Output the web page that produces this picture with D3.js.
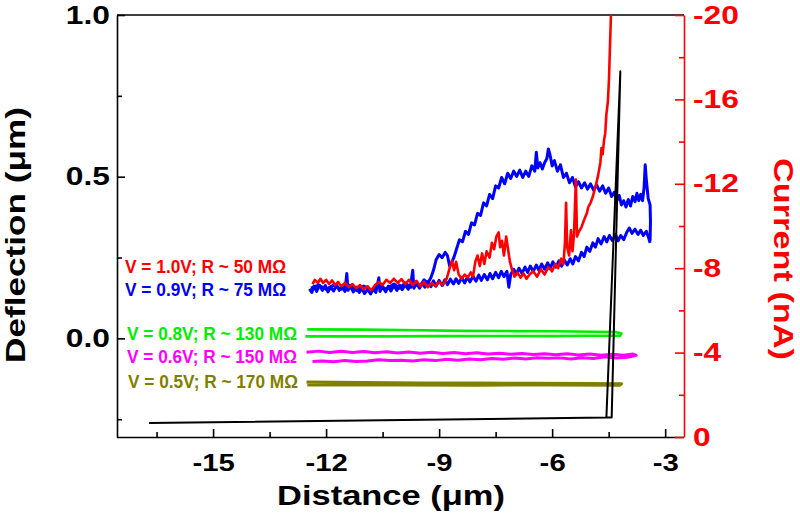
<!DOCTYPE html>
<html><head><meta charset="utf-8">
<script src="https://cdn.jsdelivr.net/npm/d3@7"></script>
<style>
body{margin:0;background:#fff;}
text{font-family:"Liberation Sans",Arial,sans-serif;font-weight:bold;}
</style></head>
<body><svg id="c" width="800" height="529"></svg>
<script>
// ---------- DATA ----------
const xTicks = [-15, -12, -9, -6, -3];
const xMinorTicks = [-16.5, -13.5, -10.5, -7.5, -4.5];
const yLeftTicks = [0, 0.5, 1.0];
const yLeftMinorTicks = [-0.25, 0.25, 0.75];
const yRightTicks = [0, -4, -8, -12, -16, -20];
const yRightMinorTicks = [-2, -6, -10, -14, -18];

const xTitle = "Distance (\u03BCm)";
const yLeftTitle = "Deflection (\u03BCm)";
const yRightTitle = "Current (nA)";

const legendLabels = [
  "V = 1.0V; R ~ 50 M\u03A9",
  "V = 0.9V; R ~ 75 M\u03A9",
  "V = 0.8V; R ~ 130 M\u03A9",
  "V = 0.6V; R ~ 150 M\u03A9",
  "V = 0.5V; R ~ 170 M\u03A9"
];

// deflection (um) vs distance (um)
const deflection = [[-16.7,-0.262],[-4.56,-0.245],[-4.19,0.826],[-4.42,-0.245],[-4.56,-0.245]];

// current (nA) vs distance (um)
const current10V = [[-12.36,-7.25],[-12.3,-7.45],[-12.22,-7.3],[-12.15,-7.5],[-12.08,-7.3],[-12.0,-7.45],[-11.92,-7.25],[-11.84,-7.42],[-11.76,-7.2],[-11.68,-7.35],[-11.6,-7.15],[-11.5,-7.3],[-11.4,-7.1],[-11.3,-7.25],[-11.2,-7.05],[-11.1,-7.2],[-11.0,-7.0],[-10.9,-7.15],[-10.8,-6.95],[-10.7,-7.2],[-10.6,-7.35],[-10.5,-7.2],[-10.4,-7.45],[-10.3,-7.3],[-10.2,-7.5],[-10.1,-7.3],[-10.0,-7.48],[-9.9,-7.25],[-9.8,-7.45],[-9.7,-7.2],[-9.6,-7.4],[-9.5,-7.15],[-9.4,-7.35],[-9.3,-7.1],[-9.2,-7.3],[-9.1,-7.15],[-9.0,-7.35],[-8.9,-7.2],[-8.8,-7.5],[-8.72,-8.0],[-8.66,-8.35],[-8.6,-7.9],[-8.55,-8.3],[-8.48,-7.7],[-8.4,-7.5],[-8.32,-7.7],[-8.24,-7.55],[-8.16,-7.8],[-8.1,-7.6],[-8.04,-8.3],[-7.98,-8.6],[-7.92,-8.1],[-7.86,-8.7],[-7.8,-8.2],[-7.74,-8.8],[-7.66,-8.5],[-7.6,-9.2],[-7.54,-8.9],[-7.48,-9.5],[-7.42,-9.7],[-7.38,-9.0],[-7.33,-9.3],[-7.28,-8.6],[-7.22,-9.5],[-7.17,-8.9],[-7.12,-8.3],[-7.06,-7.9],[-7.0,-7.6],[-6.92,-7.8],[-6.84,-7.55],[-6.76,-7.75],[-6.68,-7.5],[-6.6,-7.7],[-6.5,-7.85],[-6.4,-7.6],[-6.3,-7.95],[-6.2,-7.7],[-6.1,-8.05],[-6.0,-7.85],[-5.92,-8.2],[-5.84,-8.0],[-5.76,-8.45],[-5.7,-8.2],[-5.66,-9.2],[-5.63,-11.1],[-5.6,-9.0],[-5.55,-8.6],[-5.5,-9.8],[-5.46,-8.8],[-5.42,-9.6],[-5.37,-12.2],[-5.34,-9.5],[-5.3,-9.7],[-5.22,-9.95],[-5.15,-10.3],[-5.08,-10.6],[-5.04,-10.9],[-4.98,-11.1],[-4.92,-11.4],[-4.85,-11.85],[-4.78,-12.4],[-4.72,-13.0],[-4.69,-13.7],[-4.66,-13.4],[-4.62,-14.1],[-4.59,-14.4],[-4.56,-15.3],[-4.52,-15.9],[-4.49,-17.0],[-4.46,-18.8],[-4.43,-20.5]];

const current09VApproach = [[-12.44,-7.02],[-12.38,-6.85],[-12.32,-7.15],[-12.25,-6.9],[-12.18,-7.2],[-12.1,-6.95],[-12.02,-7.18],[-11.95,-6.88],[-11.88,-7.1],[-11.8,-6.92],[-11.72,-7.2],[-11.65,-6.95],[-11.58,-7.12],[-11.5,-6.9],[-11.45,-7.75],[-11.42,-6.95],[-11.35,-7.15],[-11.28,-6.88],[-11.2,-7.1],[-11.12,-6.85],[-11.05,-7.05],[-10.98,-6.8],[-10.9,-7.0],[-10.82,-6.78],[-10.75,-7.02],[-10.68,-6.85],[-10.6,-7.55],[-10.57,-6.9],[-10.5,-7.12],[-10.42,-6.88],[-10.35,-7.15],[-10.28,-6.92],[-10.2,-7.18],[-10.12,-6.95],[-10.05,-7.2],[-9.98,-6.98],[-9.9,-7.22],[-9.82,-7.0],[-9.75,-7.25],[-9.7,-7.9],[-9.67,-7.05],[-9.6,-7.28],[-9.52,-7.05],[-9.45,-7.3],[-9.38,-7.1],[-9.3,-7.35],[-9.22,-7.12],[-9.15,-7.4],[-9.08,-7.15],[-9.0,-7.42],[-8.92,-7.18],[-8.85,-7.45],[-8.78,-7.22],[-8.7,-7.48],[-8.62,-7.25],[-8.55,-7.5],[-8.48,-7.28],[-8.4,-7.55],[-8.32,-7.3],[-8.25,-7.58],[-8.18,-7.35],[-8.1,-7.62],[-8.02,-7.38],[-7.95,-7.68],[-7.88,-7.42],[-7.8,-7.7],[-7.72,-7.45],[-7.65,-7.75],[-7.58,-7.5],[-7.5,-7.8],[-7.42,-7.55],[-7.35,-7.85],[-7.28,-7.6],[-7.2,-7.85],[-7.15,-7.1],[-7.1,-7.7],[-7.02,-7.95],[-6.95,-7.7],[-6.88,-8.0],[-6.8,-7.75],[-6.72,-8.05],[-6.65,-7.8],[-6.58,-8.1],[-6.5,-7.85],[-6.42,-8.15],[-6.35,-7.9],[-6.28,-8.2],[-6.2,-7.95],[-6.12,-8.25],[-6.05,-8.0],[-5.98,-8.3],[-5.9,-8.05],[-5.82,-8.35],[-5.75,-8.1],[-5.68,-8.4],[-5.6,-8.15],[-5.52,-8.45],[-5.45,-8.2],[-5.38,-8.55],[-5.3,-8.35],[-5.22,-8.75],[-5.15,-8.55],[-5.08,-9.0],[-5.0,-8.8],[-4.92,-9.2],[-4.85,-9.0],[-4.78,-9.4],[-4.7,-9.15],[-4.62,-9.5],[-4.55,-9.25],[-4.48,-9.55],[-4.4,-9.3],[-4.32,-9.6],[-4.25,-9.3],[-4.18,-9.55],[-4.1,-9.35],[-4.02,-9.7],[-3.95,-9.9],[-3.88,-9.65],[-3.8,-9.85],[-3.72,-9.6],[-3.65,-9.8],[-3.58,-9.55],[-3.5,-9.75],[-3.44,-9.45],[-3.4,-9.2]];

const current09VRetract = [[-3.4,-9.3],[-3.39,-10.2],[-3.4,-11.0],[-3.45,-11.3],[-3.5,-12.2],[-3.53,-12.9],[-3.56,-11.8],[-3.6,-11.2],[-3.65,-11.5],[-3.7,-11.2],[-3.75,-11.55],[-3.8,-11.15],[-3.86,-11.4],[-3.92,-10.95],[-3.98,-11.25],[-4.04,-10.9],[-4.1,-11.2],[-4.16,-11.0],[-4.22,-11.45],[-4.28,-11.2],[-4.35,-11.6],[-4.42,-11.4],[-4.5,-11.8],[-4.58,-11.55],[-4.66,-11.9],[-4.74,-11.65],[-4.82,-11.95],[-4.9,-11.7],[-4.98,-12.0],[-5.06,-11.75],[-5.14,-12.05],[-5.22,-11.8],[-5.3,-12.1],[-5.38,-11.85],[-5.46,-12.3],[-5.54,-12.05],[-5.62,-12.5],[-5.7,-12.3],[-5.78,-12.9],[-5.86,-12.6],[-5.94,-13.1],[-6.0,-12.85],[-6.06,-13.4],[-6.1,-13.65],[-6.14,-13.2],[-6.2,-13.0],[-6.26,-12.7],[-6.32,-13.0],[-6.38,-12.75],[-6.42,-13.5],[-6.46,-12.6],[-6.54,-12.85],[-6.62,-12.35],[-6.7,-12.6],[-6.78,-12.3],[-6.86,-12.65],[-6.94,-12.35],[-7.02,-12.6],[-7.1,-12.25],[-7.18,-12.5],[-7.26,-12.0],[-7.34,-12.3],[-7.42,-11.8],[-7.5,-11.9],[-7.58,-11.3],[-7.66,-11.5],[-7.74,-10.95],[-7.82,-11.1],[-7.9,-10.5],[-7.98,-10.6],[-8.06,-10.05],[-8.14,-10.15],[-8.22,-9.6],[-8.3,-9.75],[-8.38,-9.25],[-8.46,-9.35],[-8.54,-8.9],[-8.6,-8.55],[-8.66,-8.3],[-8.72,-8.1],[-8.78,-8.6],[-8.84,-8.75],[-8.92,-8.5],[-9.0,-8.65],[-9.08,-8.4],[-9.15,-7.9],[-9.22,-7.55],[-9.3,-7.3],[-9.4,-7.45],[-9.5,-7.15],[-9.62,-7.35],[-9.75,-7.1],[-9.9,-7.3],[-10.05,-7.05],[-10.2,-7.25],[-10.4,-7.0],[-10.6,-7.2],[-10.8,-6.95],[-11.0,-7.15],[-11.2,-6.95],[-11.4,-7.2],[-11.6,-7.0],[-11.8,-7.2],[-12.0,-7.0],[-12.2,-7.2],[-12.4,-7.05]];

const current08V = [[-12.5,-5.1],[-11.0,-5.09],[-10.0,-5.07],[-8.4,-5.03],[-7.0,-5.02],[-6.0,-5.01],[-4.9,-4.99],[-4.3,-4.97],[-4.16,-4.9],[-4.2,-4.8],[-5.0,-4.8],[-6.0,-4.78],[-7.5,-4.79],[-9.0,-4.78],[-10.5,-4.77],[-12.55,-4.77]];

const current06V = [[-12.52,-4.02],[-12.2,-4.07],[-11.9,-4.0],[-11.6,-4.06],[-11.3,-4.01],[-11.0,-4.05],[-10.7,-3.99],[-10.4,-4.04],[-10.1,-3.98],[-9.8,-4.03],[-9.5,-3.97],[-9.2,-4.02],[-8.9,-3.96],[-8.6,-4.0],[-8.3,-3.95],[-8.0,-3.99],[-7.7,-3.93],[-7.4,-3.97],[-7.1,-3.92],[-6.8,-3.96],[-6.5,-3.91],[-6.2,-3.95],[-5.9,-3.9],[-5.6,-3.94],[-5.3,-3.89],[-5.0,-3.93],[-4.7,-3.88],[-4.4,-3.92],[-4.1,-3.88],[-3.85,-3.93],[-3.77,-3.87],[-4.0,-3.78],[-4.3,-3.74],[-4.6,-3.8],[-4.9,-3.72],[-5.2,-3.76],[-5.5,-3.7],[-5.8,-3.75],[-6.1,-3.73],[-6.4,-3.76],[-6.7,-3.7],[-7.0,-3.74],[-7.3,-3.68],[-7.6,-3.72],[-7.9,-3.66],[-8.2,-3.7],[-8.5,-3.64],[-8.8,-3.68],[-9.1,-3.62],[-9.4,-3.66],[-9.7,-3.6],[-10.0,-3.64],[-10.3,-3.62],[-10.6,-3.66],[-10.9,-3.6],[-11.2,-3.58],[-11.5,-3.62],[-11.8,-3.57],[-12.1,-3.6],[-12.36,-3.58]];

const current05V = [[-12.52,-2.6],[-11.0,-2.58],[-9.5,-2.56],[-8.0,-2.55],[-6.5,-2.54],[-5.0,-2.53],[-4.16,-2.52],[-4.2,-2.46],[-6.0,-2.47],[-8.0,-2.46],[-10.0,-2.47],[-12.5,-2.47]];

// ---------- STYLE / LAYOUT ----------
const colors = ["#ff0000", "#0000ff", "#00ee00", "#ff00ff", "#808000"];
const legendPos = [[125,273],[125,295.5],[127,339.5],[127,362.5],[128,388]];
const legendWidths = [161, 161, 170, 170, 170];
const L = 117, R = 684, T = 15, B = 437;

const svg = d3.select("#c");
const x = d3.scaleLinear().domain([-17.55, -2.5]).range([L, R]);
const yL = d3.scaleLinear().domain([-0.305, 1.0]).range([B, T]);
const yR = d3.scaleLinear().domain([0, -20]).range([B, T]);

svg.append("defs").append("clipPath").attr("id","clip")
  .append("rect").attr("x",L).attr("y",T).attr("width",R-L).attr("height",B-T);

// frame top
svg.append("line").attr("x1",L).attr("x2",R).attr("y1",T).attr("y2",T)
  .attr("stroke","#000").attr("stroke-width",1.6);

function stretch(sel, k){
  sel.each(function(){
    const w = this.getComputedTextLength();
    d3.select(this).attr("textLength", w*k).attr("lengthAdjust","spacingAndGlyphs");
  });
}
function styleAxis(g, color, fs, k){
  g.select(".domain").attr("stroke",color).attr("stroke-width",1.6);
  g.selectAll(".tick line").attr("stroke",color).attr("stroke-width",1.6);
  const t = g.selectAll(".tick text").attr("fill",color).style("font-size",fs+"px")
    .style("font-family","'Liberation Sans',Arial,sans-serif").style("font-weight","bold");
  stretch(t, k);
}

// bottom axis
const gxMinor = svg.append("g").attr("transform",`translate(0,${B})`)
  .call(d3.axisBottom(x).tickValues(xMinorTicks).tickSizeInner(-5).tickSizeOuter(0).tickFormat(""));
gxMinor.select(".domain").remove();
gxMinor.selectAll(".tick line").attr("stroke","#000").attr("stroke-width",1.6);
const gx = svg.append("g").attr("transform",`translate(0,${B})`)
  .call(d3.axisBottom(x).tickValues(xTicks).tickSizeInner(-8).tickSizeOuter(0).tickPadding(17).tickFormat(d=>String(d)));
gx.select(".domain").attr("d",`M${L},0.5H${R}`);
styleAxis(gx,"#000",24,1.22);

// left axis
const gyMinor = svg.append("g").attr("transform",`translate(${L},0)`)
  .call(d3.axisLeft(yL).tickValues(yLeftMinorTicks).tickSizeInner(-5).tickSizeOuter(0).tickFormat(""));
gyMinor.select(".domain").remove();
gyMinor.selectAll(".tick line").attr("stroke","#000").attr("stroke-width",1.6);
const gy = svg.append("g").attr("transform",`translate(${L},0)`)
  .call(d3.axisLeft(yL).tickValues(yLeftTicks).tickSizeInner(-8).tickSizeOuter(0).tickPadding(7).tickFormat(d3.format(".1f")));
styleAxis(gy,"#000",25,1.27);

// right axis
const grMinor = svg.append("g").attr("transform",`translate(${R},0)`)
  .call(d3.axisRight(yR).tickValues(yRightMinorTicks).tickSizeInner(-5).tickSizeOuter(0).tickFormat(""));
grMinor.select(".domain").remove();
grMinor.selectAll(".tick line").attr("stroke","#ff0000").attr("stroke-width",1.6);
const gr = svg.append("g").attr("transform",`translate(${R},0)`)
  .call(d3.axisRight(yR).tickValues(yRightTicks).tickSizeInner(-9).tickSizeOuter(0).tickPadding(9).tickFormat(d=>String(d)));
styleAxis(gr,"#ff0000",25,1.27);

// titles
svg.append("text").attr("x",391).attr("y",505).attr("text-anchor","middle")
  .style("font-size","28px").attr("fill","#000")
  .attr("textLength",228).attr("lengthAdjust","spacingAndGlyphs").text(xTitle);
svg.append("text").attr("transform","translate(25,235) rotate(-90)").attr("text-anchor","middle")
  .style("font-size","28px").attr("fill","#000")
  .attr("textLength",256).attr("lengthAdjust","spacingAndGlyphs").text(yLeftTitle);
svg.append("text").attr("transform","translate(774,259) rotate(90)").attr("text-anchor","middle")
  .style("font-size","28px").attr("fill","#ff0000")
  .attr("textLength",202).attr("lengthAdjust","spacingAndGlyphs").text(yRightTitle);

// data
const plot = svg.append("g").attr("clip-path","url(#clip)");
const lineR = d3.line().x(d=>x(d[0])).y(d=>yR(d[1]));
const lineL = d3.line().x(d=>x(d[0])).y(d=>yL(d[1]));

function draw(data, gen, color, w){
  plot.append("path").datum(data).attr("d",gen).attr("fill","none")
    .attr("stroke",color).attr("stroke-width",w).attr("stroke-linejoin","round");
}
draw(current05V, lineR, colors[4], 3.2);
draw(current06V, lineR, colors[3], 3);
draw(current08V, lineR, colors[2], 2.6);
draw(current09VApproach, lineR, colors[1], 3);
draw(current09VRetract, lineR, colors[1], 3);
draw(current10V, lineR, colors[0], 2.6);
draw(deflection, lineL, "#000", 2);

// legend texts
svg.selectAll(".leg").data(legendLabels).enter().append("text")
  .attr("x",(d,i)=>legendPos[i][0]).attr("y",(d,i)=>legendPos[i][1])
  .attr("fill",(d,i)=>colors[i]).style("font-size","18px")
  .attr("textLength",(d,i)=>legendWidths[i]).attr("lengthAdjust","spacingAndGlyphs")
  .text(d=>d);
</script></body></html>
